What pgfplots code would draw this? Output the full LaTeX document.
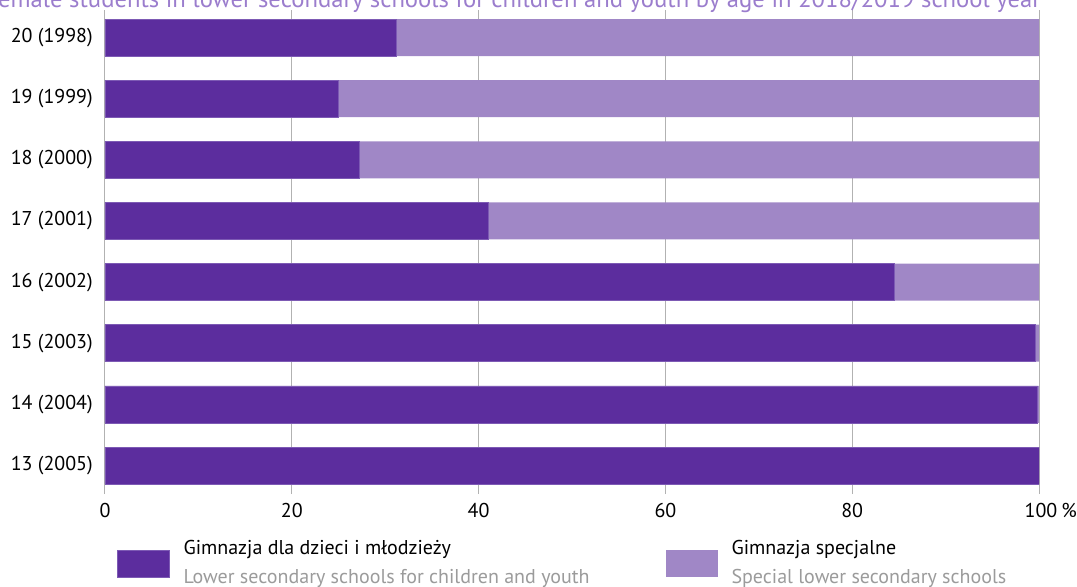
\documentclass[border=0pt]{standalone}
\usepackage{pgfplots}
\pgfplotsset{compat=1.18}
\usepackage{fontspec}
\setmainfont{PT Sans}
\definecolor{darkp}{RGB}{92,45,158}
\definecolor{lightp}{RGB}{160,135,198}
\definecolor{titlec}{RGB}{155,125,205}
\definecolor{gridc}{RGB}{178,178,178}
\definecolor{engc}{RGB}{155,155,155}
\begin{document}
\begin{tikzpicture}
\begin{axis}[
  name=ax, scale only axis, width=700.5pt, height=363pt,
  xbar stacked, bar width=27.75pt,
  xmin=0, xmax=100, ymin=-0.466, ymax=7.45,
  ytick={0,...,7},
  yticklabels={13 (2005),14 (2004),15 (2003),16 (2002),17 (2001),18 (2000),19 (1999),20 (1998)},
  xtick={0,20,40,60,80,100},
  xticklabels={0,20,40,60,80,{\hspace*{3pt}100\rlap{\hspace{0.2em}\%}}},
  axis line style={draw=none}, major tick length=0pt,
  xmajorgrids, major grid style={draw=gridc, line width=0.75pt},
  tick label style={font=\fontsize{15}{18}\selectfont, inner sep=0pt},
  yticklabel style={anchor=east, xshift=-9pt},
  xticklabel style={anchor=north, yshift=-7pt},
  /pgf/number format/assume math mode=true,
  legend columns=2,
  legend style={at={(axis description cs:0.01285,-0.082)}, anchor=north west,
    draw=none, inner sep=0pt, outer sep=0pt, column sep=10.5pt,
    nodes={inner sep=0pt}, font=\fontsize{15}{22}\selectfont, cells={anchor=west}},
  legend image code/.code={\fill[#1] (0pt,-19pt) rectangle (39pt,1pt);},
]
\addplot[fill=darkp, draw={rgb,255:red,125;green,90;blue,180}, line width=0.4pt] coordinates {
  (100,0) (99.85,1) (99.6,2) (84.5,3) (41.0,4) (27.2,5) (25.0,6) (31.2,7)};
\addlegendentry{\begin{tabular}{@{}p{351pt}@{}}Gimnazja dla dzieci i młodzieży\\\textcolor{engc}{Lower secondary schools for children and youth}\end{tabular}}
\addplot[fill=lightp, draw=none] coordinates {
  (0,0) (0.15,1) (0.4,2) (15.5,3) (59.0,4) (72.8,5) (75.0,6) (68.8,7)};
\addlegendentry{\begin{tabular}{@{}l@{}}Gimnazja specjalne\\\textcolor{engc}{Special lower secondary schools}\end{tabular}}
\end{axis}
\node[anchor=base east, text=titlec, font=\fontsize{18.5}{22}\selectfont, inner sep=0pt]
  at ([xshift=1.5pt,yshift=1.8pt]ax.north east)
  {Female students in lower secondary schools for children and youth by age in 2018/2019 school year};
\pgfresetboundingbox
\path[use as bounding box] ([shift={(-78.75pt,-69pt)}]ax.south west) rectangle ([shift={(729pt,370.5pt)}]ax.south west);
\end{tikzpicture}
\end{document}
